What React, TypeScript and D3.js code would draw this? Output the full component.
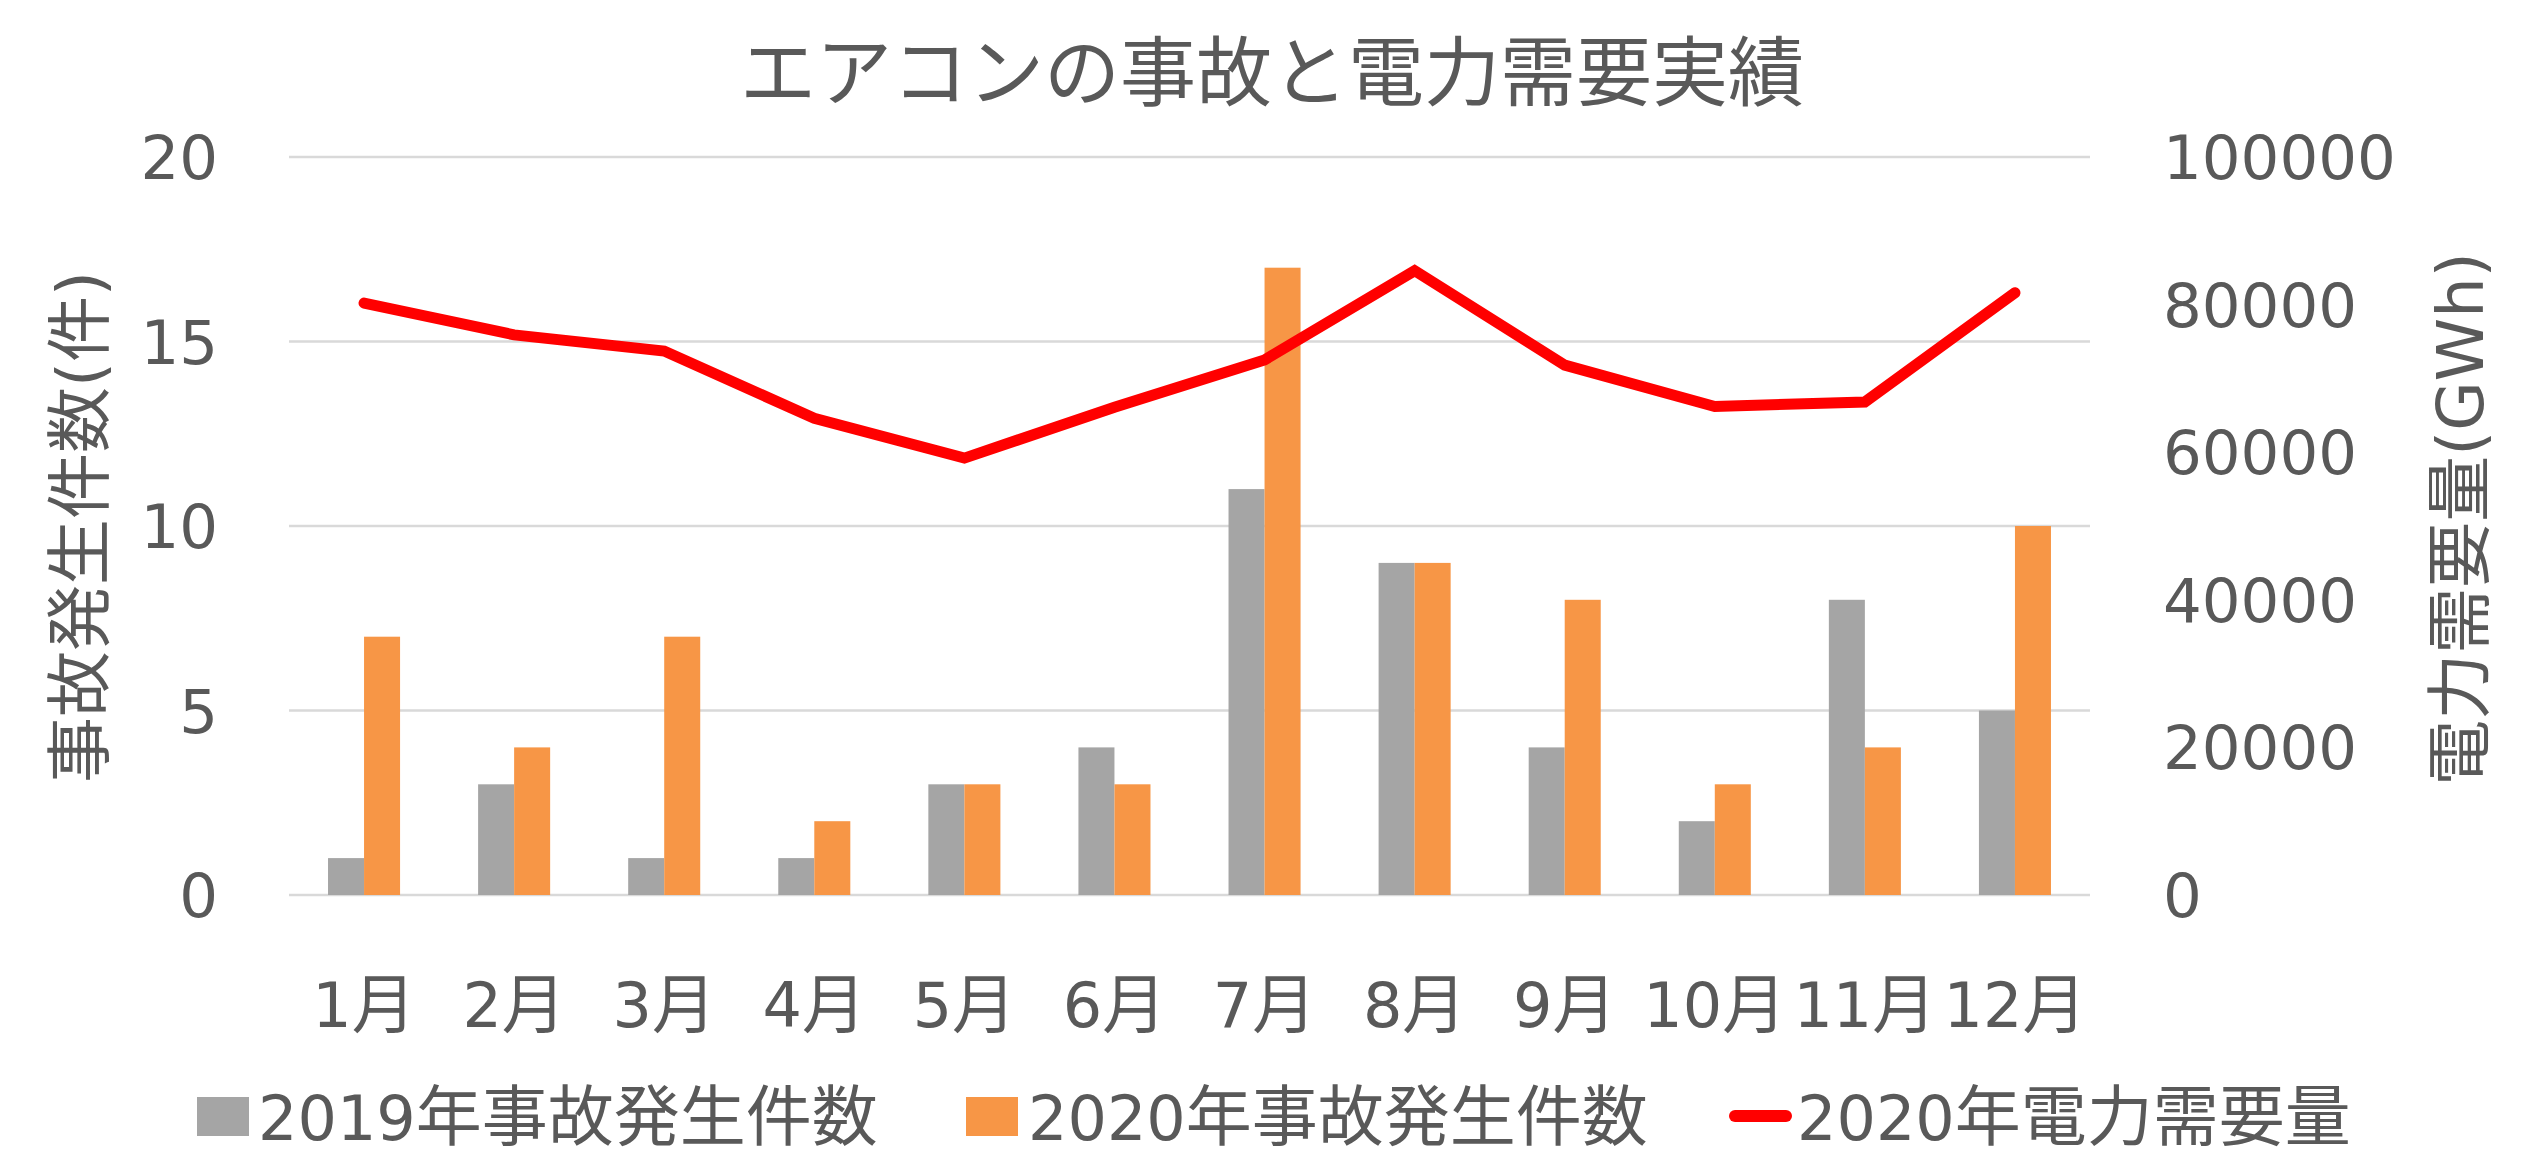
import React from "react";
import * as d3 from "d3";

// data
const months = ["1月", "2月", "3月", "4月", "5月", "6月", "7月", "8月", "9月", "10月", "11月", "12月"];
const accidents2019 = [1, 3, 1, 1, 3, 4, 11, 9, 4, 2, 8, 5];
const accidents2020 = [7, 4, 7, 2, 3, 3, 17, 9, 8, 3, 4, 10];
const demand2020 = [80200, 75900, 73700, 64600, 59200, 66100, 72500, 84600, 71800, 66200, 66800, 81600];
const leftTicks = [0, 5, 10, 15, 20];
const rightTicks = [0, 20000, 40000, 60000, 80000, 100000];
const seriesNames = ["2019年事故発生件数", "2020年事故発生件数", "2020年電力需要量"];

const W = 2544;
const H = 1161;
const margin = { top: 157, right: 454, bottom: 266, left: 289 };
const textColor = "#595959";
const colors = { y2019: "#A5A5A5", y2020: "#F79646", line: "#FF0000", grid: "#D9D9D9" };
const LATIN = "'DejaVu Sans', 'Noto Sans CJK JP', sans-serif";
const CJK = "'Noto Sans CJK JP', 'DejaVu Sans', sans-serif";

// split a label into latin / CJK runs so each gets its own size
function Mixed({ text, latin, cjk }: { text: string; latin: number; cjk: number }) {
  const runs = text.match(/[\u3000-\u9fff\uff00-\uffef]+|[^\u3000-\u9fff\uff00-\uffef]+/g) || [];
  return (
    <>
      {runs.map((r, i) => {
        const isCjk = /[\u3000-\u9fff\uff00-\uffef]/.test(r);
        return (
          <tspan key={i} fontFamily={isCjk ? CJK : LATIN} fontSize={isCjk ? cjk : latin}>
            {r}
          </tspan>
        );
      })}
    </>
  );
}

export default function App() {
  const x = d3
    .scaleBand()
    .domain(months)
    .range([margin.left, W - margin.right])
    .paddingInner(0)
    .paddingOuter(0);
  const bw = x.bandwidth();
  const groupW = bw * 0.48;
  const x1 = d3
    .scaleBand()
    .domain(["2019", "2020"])
    .range([bw / 2 - groupW / 2, bw / 2 + groupW / 2]);

  const yL = d3.scaleLinear().domain([0, 20]).range([H - margin.bottom, margin.top]);
  const yR = d3.scaleLinear().domain([0, 100000]).range([H - margin.bottom, margin.top]);

  const line = d3
    .line<number>()
    .x((_, i) => (x(months[i]) as number) + bw / 2)
    .y((d) => yR(d));

  const legendY = 1116;

  return (
    <svg
      width={W}
      height={H}
      style={{ position: "absolute", left: 0, top: 0, background: "#fff" }}
    >
      <rect width={W} height={H} fill="#fff" />
      {/* title */}
      <text x={1272} y={100} textAnchor="middle" fill={textColor} fontFamily={CJK} fontSize={76}>
        エアコンの事故と電力需要実績
      </text>

      {/* grid */}
      <g>
        {leftTicks.map((t) => (
          <line
            key={t}
            x1={margin.left}
            x2={W - margin.right}
            y1={yL(t)}
            y2={yL(t)}
            stroke={colors.grid}
            strokeWidth={2.5}
          />
        ))}
      </g>

      {/* left ticks */}
      <g fill={textColor} fontFamily={LATIN} fontSize={61}>
        {leftTicks.map((t) => (
          <text key={t} x={218} y={yL(t) + 22} textAnchor="end">
            {t}
          </text>
        ))}
      </g>
      {/* right ticks */}
      <g fill={textColor} fontFamily={LATIN} fontSize={61}>
        {rightTicks.map((t) => (
          <text key={t} x={2163} y={yR(t) + 22} textAnchor="start">
            {t}
          </text>
        ))}
      </g>

      {/* axis titles */}
      <text
        transform="translate(80,527) rotate(-90)"
        textAnchor="middle"
        y={23}
        fill={textColor}
      >
        <Mixed text="事故発生件数(件)" latin={64} cjk={66} />
      </text>
      <text
        transform="translate(2460,519) rotate(-90)"
        textAnchor="middle"
        y={23}
        fill={textColor}
      >
        <Mixed text="電力需要量(GWh)" latin={64} cjk={66} />
      </text>

      {/* bars */}
      <g>
        {months.map((m, i) => (
          <g key={m} transform={`translate(${x(m)},0)`}>
            <rect
              x={x1("2019")}
              width={x1.bandwidth()}
              y={yL(accidents2019[i])}
              height={yL(0) - yL(accidents2019[i])}
              fill={colors.y2019}
            />
            <rect
              x={x1("2020")}
              width={x1.bandwidth()}
              y={yL(accidents2020[i])}
              height={yL(0) - yL(accidents2020[i])}
              fill={colors.y2020}
            />
          </g>
        ))}
      </g>

      {/* demand line */}
      <path
        d={line(demand2020) || ""}
        fill="none"
        stroke={colors.line}
        strokeWidth={11}
        strokeLinecap="round"
        strokeLinejoin="miter"
      />

      {/* month labels */}
      <g fill={textColor} textAnchor="middle">
        {months.map((m) => (
          <text key={m} x={(x(m) as number) + bw / 2} y={1027}>
            <Mixed text={m} latin={62} cjk={64} />
          </text>
        ))}
      </g>

      {/* legend */}
      <g fill={textColor}>
        <rect x={197} y={1097} width={52} height={39} fill={colors.y2019} />
        <text x={258} y={1140}>
          <Mixed text={seriesNames[0]} latin={62} cjk={66} />
        </text>
        <rect x={966} y={1097} width={52} height={39} fill={colors.y2020} />
        <text x={1028} y={1140}>
          <Mixed text={seriesNames[1]} latin={62} cjk={66} />
        </text>
        <line
          x1={1735}
          x2={1786}
          y1={legendY}
          y2={legendY}
          stroke={colors.line}
          strokeWidth={12}
          strokeLinecap="round"
        />
        <text x={1797} y={1140}>
          <Mixed text={seriesNames[2]} latin={62} cjk={66} />
        </text>
      </g>
    </svg>
  );
}
